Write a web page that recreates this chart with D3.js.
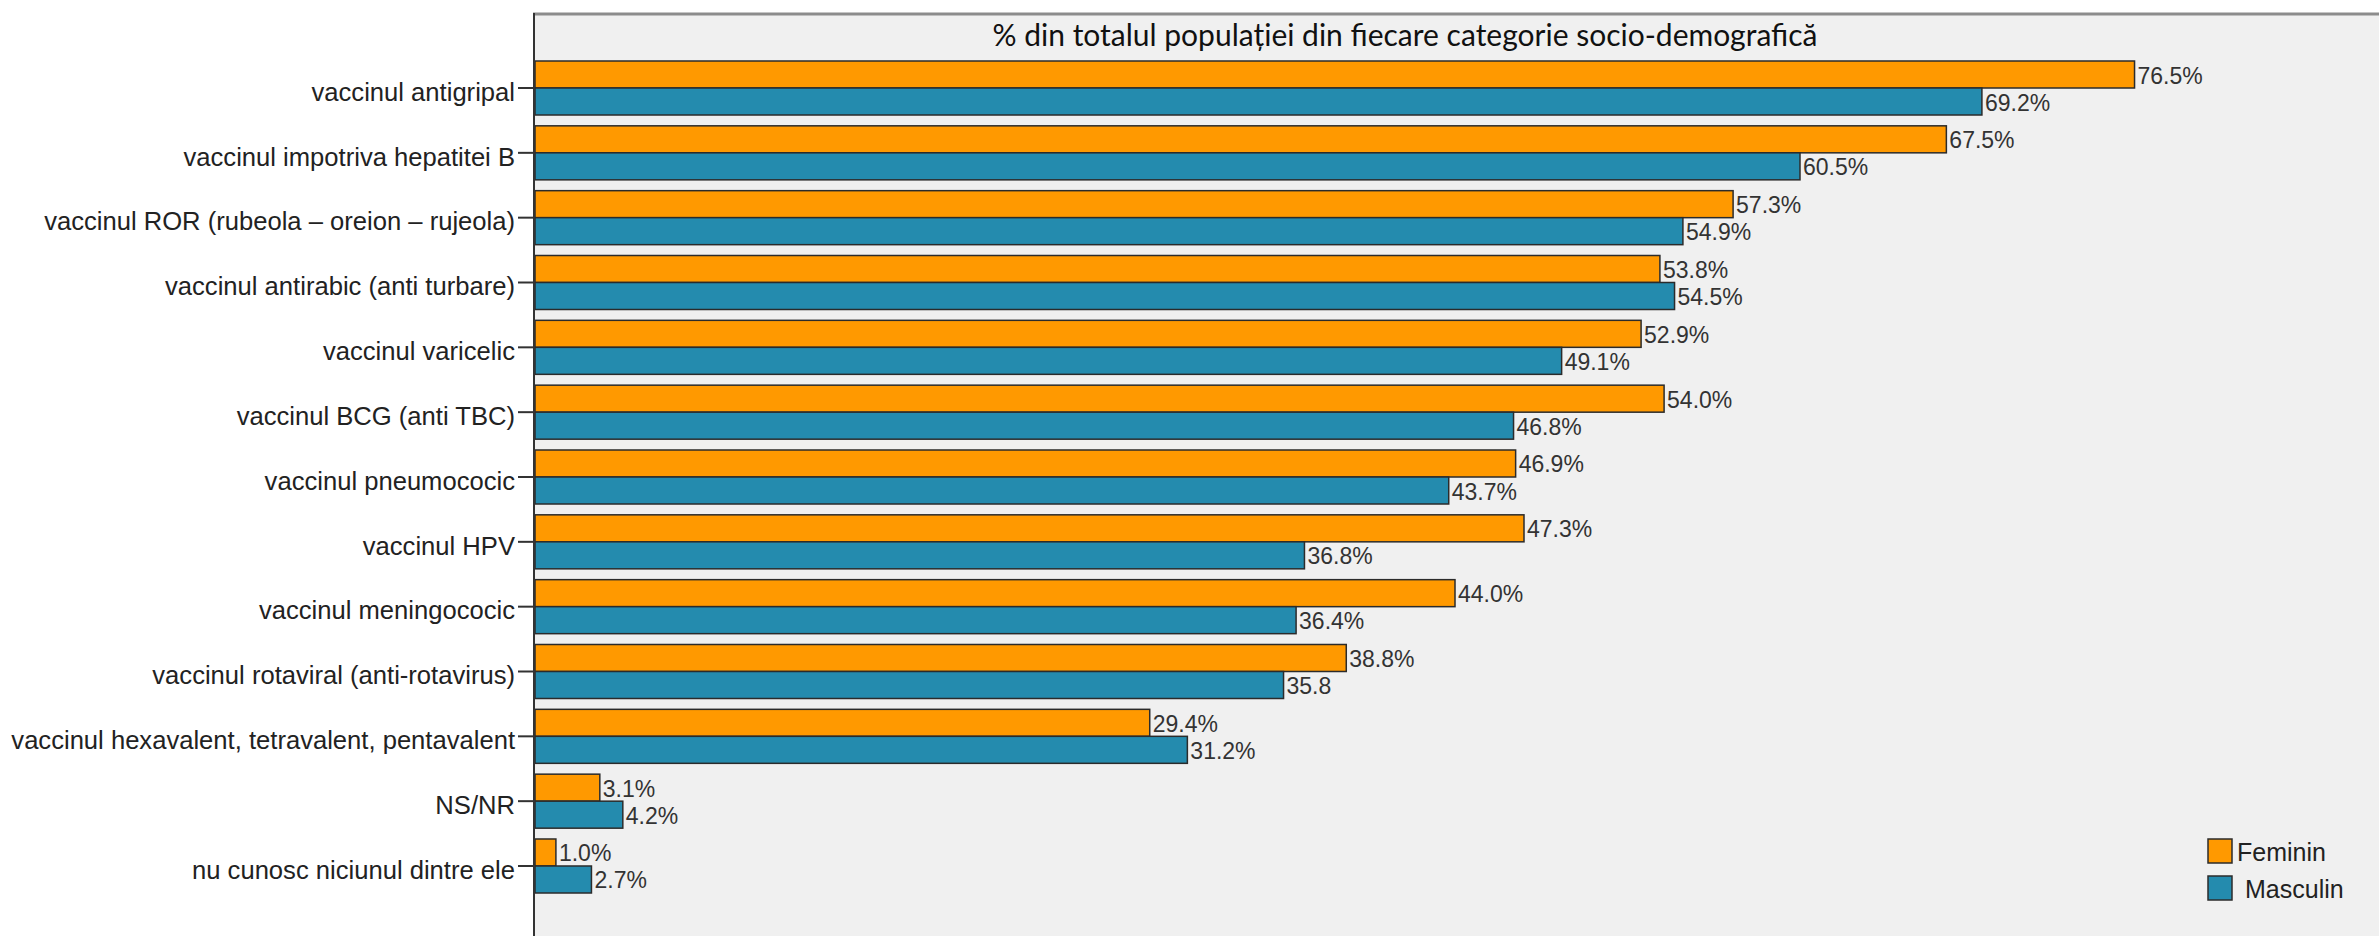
<!DOCTYPE html>
<html lang="ro">
<head>
  <meta charset="utf-8">
  <title>Vaccinuri cunoscute, pe sexe</title>
  <script src="https://d3js.org/d3.v7.min.js"></script>
  <style type="text/css">
    body {
      margin: 0;
      background-color: white;
    }
    .catLabel {
      font-family: "Liberation Sans", Arial, sans-serif;
      font-size: 25.6px;
      fill: #222;
    }
    .valLabel {
      font-family: "Liberation Sans", Arial, sans-serif;
      font-size: 23px;
      fill: #333;
    }
    .legendLabel {
      font-family: "Liberation Sans", Arial, sans-serif;
      font-size: 25px;
      fill: #222;
    }
    .title {
      font-family: Lato, "Open Sans", sans-serif;
      font-size: 30px;
      fill: #111;
    }
  </style>
</head>
<body>
  <svg></svg>

  <script type="text/javascript">

  const categories = [
    "vaccinul antigripal",
    "vaccinul impotriva hepatitei B",
    "vaccinul ROR (rubeola \u2013 oreion \u2013 rujeola)",
    "vaccinul antirabic (anti turbare)",
    "vaccinul varicelic",
    "vaccinul BCG (anti TBC)",
    "vaccinul pneumococic",
    "vaccinul HPV",
    "vaccinul meningococic",
    "vaccinul rotaviral (anti-rotavirus)",
    "vaccinul hexavalent, tetravalent, pentavalent",
    "NS/NR",
    "nu cunosc niciunul dintre ele"
  ];
  const series = ["Feminin", "Masculin"];
  const feminin  = [76.5, 67.5, 57.3, 53.8, 52.9, 54.0, 46.9, 47.3, 44.0, 38.8, 29.4, 3.1, 1.0];
  const masculin = [69.2, 60.5, 54.9, 54.5, 49.1, 46.8, 43.7, 36.8, 36.4, 35.8, 31.2, 4.2, 2.7];
  // the chart prints this one label without the % sign
  const noPercent = ["vaccinul rotaviral (anti-rotavirus)|Masculin"];
  const title = "% din totalul popula\u021biei din fiecare categorie socio-demografic\u0103";

  const width = 2379;
  const height = 936;
  const colors = {Feminin: "#ff9900", Masculin: "#248bae"};

  const rows = [];
  categories.forEach((c, i) => {
    rows.push({cat: c, s: "Feminin", v: feminin[i]});
    rows.push({cat: c, s: "Masculin", v: masculin[i]});
  });

  const svg = d3.select("svg")
    .attr("width", width)
    .attr("height", height);

  const x = d3.scaleLinear()
    .domain([0, 88])
    .range([535, 2375]);

  const y = d3.scaleBand()
    .domain(categories)
    .range([61, 893])
    .paddingInner(0.167)
    .paddingOuter(0);

  const ySub = d3.scaleBand()
    .domain(series)
    .range([0, y.bandwidth()]);

  // plot background + top frame
  svg.append("rect")
    .attr("x", 534).attr("y", 14)
    .attr("width", width - 534).attr("height", height - 14)
    .attr("fill", "#f0f0f0");

  svg.append("line")
    .attr("x1", 533).attr("x2", width)
    .attr("y1", 14).attr("y2", 14)
    .attr("stroke", "#8c8c8c")
    .attr("stroke-width", 3);

  svg.append("text")
    .attr("class", "title")
    .attr("x", 1405)
    .attr("y", 34)
    .attr("text-anchor", "middle")
    .attr("dominant-baseline", "central")
    .text(title);

  // bars
  svg.selectAll("rect.bar")
    .data(rows)
    .enter()
    .append("rect")
    .attr("class", "bar")
    .attr("x", x(0))
    .attr("y", d => y(d.cat) + ySub(d.s))
    .attr("width", d => x(d.v) - x(0))
    .attr("height", ySub.bandwidth())
    .attr("fill", d => colors[d.s])
    .attr("stroke", "#2b2b2b")
    .attr("stroke-width", 1.5);

  svg.selectAll("text.valLabel")
    .data(rows)
    .enter()
    .append("text")
    .attr("class", "valLabel")
    .attr("x", d => x(d.v) + 3)
    .attr("y", d => y(d.cat) + ySub(d.s) + ySub.bandwidth() / 2 + 1)
    .attr("dominant-baseline", "central")
    .text(d => d.v.toFixed(1) + (noPercent.includes(d.cat + "|" + d.s) ? "" : "%"));

  // category axis
  const yAxis = svg.append("g")
    .attr("transform", "translate(534,0)")
    .call(d3.axisLeft(y).tickSize(16).tickPadding(3).tickSizeOuter(0));

  yAxis.select(".domain").remove();
  yAxis.selectAll(".tick line")
    .attr("stroke", "#333")
    .attr("stroke-width", 2);
  yAxis.selectAll(".tick text")
    .attr("class", "catLabel")
    .attr("fill", null)
    .attr("dy", "0.5em");
  yAxis.attr("font-family", null).attr("font-size", null);

  svg.append("line")
    .attr("x1", 534).attr("x2", 534)
    .attr("y1", 13).attr("y2", height)
    .attr("stroke", "#333")
    .attr("stroke-width", 2);

  // legend
  const legend = svg.selectAll("g.legend")
    .data(series)
    .enter()
    .append("g")
    .attr("class", "legend")
    .attr("transform", (d, i) => "translate(2208," + (839 + i * 37) + ")");

  legend.append("rect")
    .attr("width", 24)
    .attr("height", 24)
    .attr("fill", d => colors[d])
    .attr("stroke", "#2b2b2b")
    .attr("stroke-width", 1.5);

  legend.append("text")
    .attr("class", "legendLabel")
    .attr("x", (d, i) => i === 0 ? 29 : 37)
    .attr("y", 13)
    .attr("dominant-baseline", "central")
    .text(d => d);

  </script>
</body>
</html>
